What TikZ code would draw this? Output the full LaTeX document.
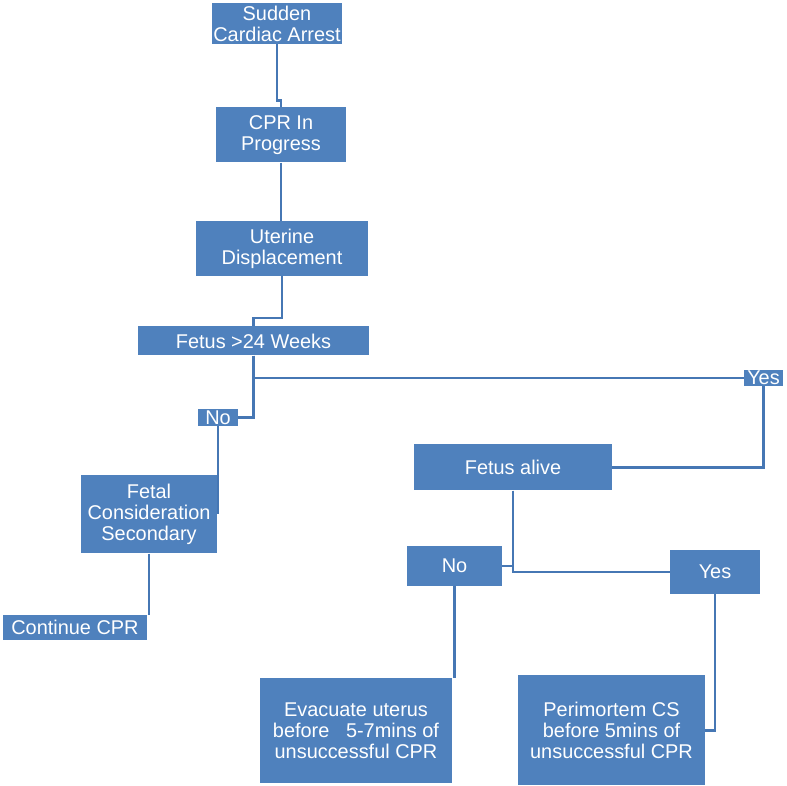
\documentclass[tikz,border=0pt]{standalone}
\usepackage{fontspec}
\setmainfont{Liberation Sans}
\usetikzlibrary{positioning,calc}
\definecolor{boxblue}{HTML}{4F81BD}
\definecolor{lineblue}{HTML}{4677B4}

\begin{document}
\begin{tikzpicture}[
  every node/.style={fill=boxblue,text=white,inner sep=0pt,align=center,font=\fontsize{17pt}{18pt}\selectfont},
  boxsize/.style 2 args={minimum width=#1cm,minimum height=#2cm},
  link/.style={draw=lineblue,line width=2.1pt}
]
  \useasboundingbox (0,0) rectangle (23.61,-23.55);
  \node[boxsize={3.9}{1.23}] (arrest) at (8.31,-0.705) {Sudden\\Cardiac Arrest};
  \node[boxsize={3.9}{1.65}, below=1.89cm of arrest, xshift=0.12cm] (cpr) {CPR In\\Progress};
  \node[boxsize={5.16}{1.65}, below=1.74cm of cpr, xshift=0.03cm] (uterine) {Uterine\\Displacement};
  \node[boxsize={6.93}{0.87}, below=1.5cm of uterine, xshift=-0.855cm] (weeks) {Fetus >24 Weeks};
  \node[boxsize={1.2}{0.51}, below=1.59cm of weeks, xshift=-1.065cm] (weeksno) {No};
  \node[boxsize={1.17}{0.48}, below=0.42cm of weeks, xshift=15.3cm] (weeksyes) {Yes};
  \node[boxsize={5.94}{1.38}, below=1.74cm of weeksyes, xshift=-7.515cm] (alive) {Fetus alive};
  \node[boxsize={4.08}{2.34}, below=1.47cm of weeksno, xshift=-2.07cm] (secondary) {Fetal\\Consideration\\Secondary};
  \node[boxsize={4.32}{0.75}, below=1.83cm of secondary, xshift=-2.22cm] (continue) {Continue CPR};
  \node[boxsize={2.85}{1.2}, below=1.65cm of alive, xshift=-1.755cm] (aliveno) {No};
  \node[boxsize={2.7}{1.32}, below=1.77cm of alive, xshift=6.06cm] (aliveyes) {Yes};
  \node[boxsize={5.76}{3.15}, below=2.76cm of aliveno, xshift=-2.955cm] (evacuate) {Evacuate uterus\\before\ \ \ 5-7mins of\\unsuccessful CPR};
  \node[boxsize={5.61}{3.3}, below=2.43cm of aliveyes, xshift=-3.105cm] (perimortem) {Perimortem CS\\before 5mins of\\unsuccessful CPR};
  \draw[link] (arrest.south) |- ($(cpr.north)+(0,0.2)$) -| (cpr.north);
  \draw[link] (cpr.south) -- (cpr.south |- uterine.north);
  \draw[link] (uterine.south) |- ($(weeks.north)+(0,0.24)$) -| (weeks.north);
  \draw[link] (weeks.south) |- (weeksno.east);
  \draw[link] (weeks.south) |- (weeksyes.west);
  \draw[link] (weeksyes.south) |- (alive.east);
  \draw[link] (weeksno.south) -- (weeksno.south |- secondary.east);
  \draw[link] (secondary.south) -- (secondary.south |- continue.north);
  \draw[link] (alive.south) |- (aliveno.east);
  \draw[link] (alive.south) |- (aliveyes.west);
  \draw[link] (aliveno.south) -- (aliveno.south |- evacuate.north);
  \draw[link] (aliveyes.south) |- (perimortem.east);
\end{tikzpicture}
\end{document}
